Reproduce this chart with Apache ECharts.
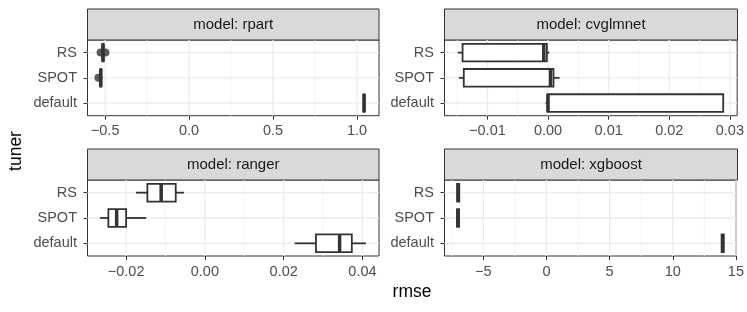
<!DOCTYPE html>
<html><head><meta charset="utf-8">
<script src="https://cdn.jsdelivr.net/npm/echarts@6/dist/echarts.min.js"></script>
<style>html,body{margin:0;padding:0;background:#fff}#c{width:747px;height:312px}</style>
</head><body><div id="c"></div>
<script>
// ---- data ----
const tuners = ['RS', 'SPOT', 'default'];
const panelTitles = ['model: rpart', 'model: cvglmnet', 'model: ranger', 'model: xgboost'];

// five-number summaries [min, Q1, median, Q3, max], one row per tuner (RS, SPOT, default)
const rpartStats = [
  [-0.518, -0.516, -0.513, -0.509, -0.506],
  [-0.531, -0.529, -0.526, -0.523, -0.521],
  [1.038, 1.039, 1.042, 1.045, 1.047]
];
const rpartOutliers = [[-0.527, 'RS'], [-0.498, 'RS'], [-0.540, 'SPOT']];
const cvglmnetStats = [
  [-0.0149, -0.0141, -0.0007, -0.0002, 0.0002],
  [-0.0147, -0.0139, 0.0004, 0.0009, 0.0019],
  [-0.0004, -0.0001, 0.0000, 0.0289, 0.0289]
];
const rangerStats = [
  [-0.0175, -0.0146, -0.0111, -0.0074, -0.0053],
  [-0.0266, -0.0245, -0.0224, -0.0200, -0.0149],
  [0.0228, 0.0282, 0.0342, 0.0373, 0.0409]
];
const xgboostStats = [
  [-7.07, -7.07, -6.98, -6.90, -6.90],
  [-7.08, -7.08, -7.00, -6.92, -6.92],
  [13.87, 13.87, 13.95, 14.03, 14.03]
];

// axis limits, tick values and labels
const rpartLimits = [-0.605, 1.131];
const rpartTicks = [-0.5, 0, 0.5, 1.0];
const rpartTickLabels = ['\u22120.5', '0.0', '0.5', '1.0'];
const rpartMinor = [-0.25, 0.25, 0.75];

const cvglmnetLimits = [-0.01708, 0.0312];
const cvglmnetTicks = [-0.01, 0, 0.01, 0.02, 0.03];
const cvglmnetTickLabels = ['\u22120.01', '0.00', '0.01', '0.02', '0.03'];
const cvglmnetMinor = [-0.015, -0.005, 0.005, 0.015, 0.025];

const rangerLimits = [-0.0298, 0.0442];
const rangerTicks = [-0.02, 0, 0.02, 0.04];
const rangerTickLabels = ['\u22120.02', '0.00', '0.02', '0.04'];
const rangerMinor = [-0.01, 0.01, 0.03];

const xgboostLimits = [-8.07, 15.0];
const xgboostTicks = [-5, 0, 5, 10, 15];
const xgboostTickLabels = ['\u22125', '0', '5', '10', '15'];
const xgboostMinor = [-7.5, -2.5, 2.5, 7.5, 12.5];

// ---- layout / style ----
const FONT = '"Liberation Sans", Arial, Helvetica, sans-serif';
const INK = '#333333';
const GRID_COLOR = '#ebebeb';
const MINOR_COLOR = '#f2f2f2';
const panels = [
  { stats: rpartStats, outliers: rpartOutliers, limits: rpartLimits, ticks: rpartTicks, labels: rpartTickLabels, minor: rpartMinor, left: 87.5, top: 40, width: 291.5, height: 75.7 },
  { stats: cvglmnetStats, outliers: [], limits: cvglmnetLimits, ticks: cvglmnetTicks, labels: cvglmnetTickLabels, minor: cvglmnetMinor, left: 444.5, top: 40, width: 293, height: 75.7 },
  { stats: rangerStats, outliers: [], limits: rangerLimits, ticks: rangerTicks, labels: rangerTickLabels, minor: rangerMinor, left: 87.5, top: 180, width: 291.5, height: 76 },
  { stats: xgboostStats, outliers: [], limits: xgboostLimits, ticks: xgboostTicks, labels: xgboostTickLabels, minor: xgboostMinor, left: 444.5, top: 180, width: 293, height: 76 }
];
const STRIP_H = 31;

function renderBox(params, api) {
  const yi = api.value(0);
  const pMin = api.coord([api.value(1), yi]);
  const pQ1 = api.coord([api.value(2), yi]);
  const pMed = api.coord([api.value(3), yi]);
  const pQ3 = api.coord([api.value(4), yi]);
  const pMax = api.coord([api.value(5), yi]);
  const band = api.size([0, 1])[1];
  const h = band * 0.7;
  const cy = pMed[1];
  const lw = 1.8;
  return {
    type: 'group',
    children: [
      { type: 'line', shape: { x1: pMin[0], y1: cy, x2: pQ1[0], y2: cy }, style: { stroke: INK, lineWidth: lw } },
      { type: 'line', shape: { x1: pQ3[0], y1: cy, x2: pMax[0], y2: cy }, style: { stroke: INK, lineWidth: lw } },
      { type: 'rect', shape: { x: pQ1[0], y: cy - h / 2, width: pQ3[0] - pQ1[0], height: h }, style: { fill: '#ffffff', stroke: INK, lineWidth: lw } },
      { type: 'line', shape: { x1: pMed[0], y1: cy - h / 2, x2: pMed[0], y2: cy + h / 2 }, style: { stroke: INK, lineWidth: 3.5 } }
    ]
  };
}

// grid lines: item [xValue, categoryIndex, kind]; kind 0 major vertical, 1 minor vertical, 2 horizontal
function renderGridLine(params, api) {
  const cs = params.coordSys;
  const kind = api.value(2);
  const pt = api.coord([api.value(0), api.value(1)]);
  if (kind === 2) {
    return { type: 'line', shape: { x1: cs.x, y1: pt[1], x2: cs.x + cs.width, y2: pt[1] }, style: { stroke: GRID_COLOR, lineWidth: 1.3 }, silent: true };
  }
  return { type: 'line', shape: { x1: pt[0], y1: cs.y, x2: pt[0], y2: cs.y + cs.height },
    style: { stroke: kind === 0 ? GRID_COLOR : MINOR_COLOR, lineWidth: kind === 0 ? 1.3 : 0.8 }, silent: true };
}

const grid = [], xAxis = [], yAxis = [], series = [], graphic = [];
panels.forEach((p, i) => {
  grid.push({ left: p.left, top: p.top, width: p.width, height: p.height, show: true, backgroundColor: '#ffffff', borderColor: INK, borderWidth: 1, containLabel: false });
  const fmt = (v) => {
    const k = p.ticks.findIndex(t => Math.abs(t - v) < 1e-9);
    return k >= 0 ? p.labels[k] : '';
  };
  xAxis.push({
    type: 'value', gridIndex: i, min: p.limits[0], max: p.limits[1], position: 'bottom',
    axisLine: { show: false, onZero: false },
    axisTick: { show: true, customValues: p.ticks, length: 4, lineStyle: { color: INK, width: 1 } },
    axisLabel: { customValues: p.ticks, formatter: fmt, color: '#4d4d4d', fontSize: 14.5, fontFamily: FONT, margin: 8 },
    splitLine: { show: false }
  });
  yAxis.push({
    type: 'category', gridIndex: i, data: tuners, inverse: true, position: 'left',
    axisLine: { show: false, onZero: false },
    axisTick: { show: true, alignWithLabel: true, length: 4, lineStyle: { color: INK, width: 1 } },
    axisLabel: { color: '#4d4d4d', fontSize: 14.5, fontFamily: FONT, margin: 10.5 },
    splitLine: { show: false }
  });
  const gridData = []
    .concat(p.minor.map(v => [v, 0, 1]))
    .concat(p.ticks.map(v => [v, 0, 0]))
    .concat(tuners.map((t, k) => [p.ticks[0], k, 2]));
  series.push({
    type: 'custom', xAxisIndex: i, yAxisIndex: i,
    renderItem: renderGridLine,
    encode: { x: 0, y: 1 },
    data: gridData, silent: true, clip: false, z: 1
  });
  series.push({
    type: 'custom', xAxisIndex: i, yAxisIndex: i,
    renderItem: renderBox,
    encode: { x: [1, 2, 3, 4, 5], y: 0 },
    data: p.stats.map((s, k) => [k].concat(s)),
    z: 5
  });
  if (p.outliers.length) {
    series.push({
      type: 'scatter', xAxisIndex: i, yAxisIndex: i,
      data: p.outliers, symbol: 'circle', symbolSize: 8,
      itemStyle: { color: INK }, z: 6
    });
  }
  graphic.push({
    type: 'group', x: p.left, y: p.top - STRIP_H,
    children: [
      { type: 'rect', shape: { x: 0, y: 0, width: p.width, height: STRIP_H }, style: { fill: '#d9d9d9', stroke: INK, lineWidth: 1 } },
      { type: 'text', x: p.width / 2, y: STRIP_H / 2 + 0.5, style: { text: panelTitles[i], fill: '#1a1a1a', font: '15px ' + FONT, align: 'center', verticalAlign: 'middle' } }
    ]
  });
});
graphic.push({ type: 'text', x: 16.5, y: 151, rotation: Math.PI / 2, style: { text: 'tuner', fill: '#000', font: '17.5px ' + FONT, align: 'center', verticalAlign: 'middle' } });
graphic.push({ type: 'text', x: 412, y: 292, style: { text: 'rmse', fill: '#000', font: '17.5px ' + FONT, align: 'center', verticalAlign: 'middle' } });

const chart = echarts.init(document.getElementById('c'), null, { renderer: 'canvas' });
chart.setOption({
  animation: false,
  backgroundColor: '#ffffff',
  grid, xAxis, yAxis, series, graphic
});
</script>
</body></html>
